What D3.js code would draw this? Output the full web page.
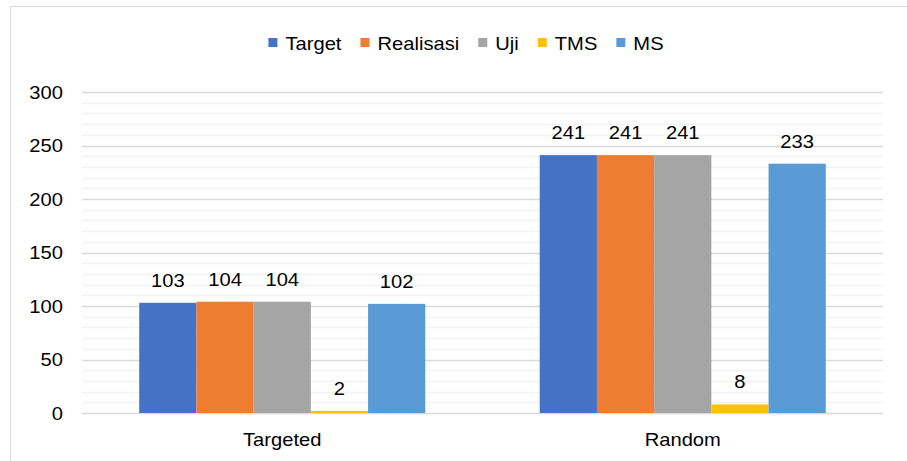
<!DOCTYPE html>
<html>
<head>
<meta charset="utf-8">
<script src="https://cdn.jsdelivr.net/npm/d3@7"></script>
<style>
html,body{margin:0;padding:0;background:#fff;}
svg{display:block;}
text{font-family:"Liberation Sans", Arial, sans-serif;fill:#000;}
</style>
</head>
<body>
<svg id="chart" width="907" height="461"></svg>
<script>
const categories = ["Targeted", "Random"];
const seriesNames = ["Target", "Realisasi", "Uji", "TMS", "MS"];
const seriesColors = ["#4472C4", "#ED7D31", "#A5A5A5", "#FFC000", "#5B9BD5"];
const targetValues = [103, 241];
const realisasiValues = [104, 241];
const ujiValues = [104, 241];
const tmsValues = [2, 8];
const msValues = [102, 233];
const yTicks = [0, 50, 100, 150, 200, 250, 300];

const seriesValues = [targetValues, realisasiValues, ujiValues, tmsValues, msValues];

const W = 907, H = 461;
const svg = d3.select("#chart");
const FS = 18, SX = 1.12;

// chart border
svg.append("rect").attr("x", 10.5).attr("y", 6.5).attr("width", 912).attr("height", 470)
  .attr("fill", "#fff").attr("stroke", "#d9d9d9").attr("stroke-width", 1);

const plot = {left: 82, right: 883, top: 92, bottom: 413};

const x0 = d3.scaleBand().domain(categories).range([plot.left, plot.right]).paddingInner(0).paddingOuter(0);
const y = d3.scaleLinear().domain([0, 300]).range([plot.bottom, plot.top]);

function txt(g, s, x, yy, anchor) {
  return g.append("text")
    .attr("transform", `translate(${x},${yy}) scale(${SX},1)`)
    .attr("text-anchor", anchor || "middle")
    .attr("font-size", FS)
    .text(s);
}

// minor gridlines
const minor = d3.range(10, 300, 10).filter(v => v % 50 !== 0);
svg.append("g").selectAll("line").data(minor).join("line")
  .attr("x1", plot.left).attr("x2", plot.right)
  .attr("y1", d => Math.round(y(d)) + 0.5).attr("y2", d => Math.round(y(d)) + 0.5)
  .attr("stroke", "#f2f2f2").attr("stroke-width", 1.5);

// major gridlines
svg.append("g").selectAll("line").data(yTicks).join("line")
  .attr("x1", plot.left).attr("x2", plot.right)
  .attr("y1", d => Math.round(y(d)) + 0.5).attr("y2", d => Math.round(y(d)) + 0.5)
  .attr("stroke", "#d9d9d9").attr("stroke-width", 1.5);

// y tick labels
const yl = svg.append("g");
yTicks.forEach(t => txt(yl, t, 63, y(t) + 6.5, "end"));

// bars
const groupW = x0.bandwidth() * 5 / 7;
const x1 = d3.scaleBand().domain(seriesNames).range([0, groupW]).padding(0);
const bars = svg.append("g");
const labels = svg.append("g");
categories.forEach((c, ci) => {
  const gx = x0(c) + (x0.bandwidth() - groupW) / 2;
  seriesNames.forEach((s, si) => {
    const v = seriesValues[si][ci];
    bars.append("rect")
      .attr("x", gx + x1(s)).attr("width", x1.bandwidth())
      .attr("y", y(v)).attr("height", y(0) - y(v))
      .attr("fill", seriesColors[si]);
    txt(labels, v, gx + x1(s) + x1.bandwidth() / 2, y(v) - 16, "middle");
  });
  txt(svg, c, x0(c) + x0.bandwidth() / 2, 446, "middle");
});

// legend
const leg = svg.append("g");
const items = [];
let cursor = 0;
seriesNames.forEach((s, i) => {
  const g = leg.append("g");
  g.append("rect").attr("x", 0).attr("y", -5).attr("width", 9).attr("height", 9).attr("fill", seriesColors[i]);
  const t = txt(g, s, 17, 6.5, "start");
  const w = t.node().getComputedTextLength() * SX;
  items.push({g, x: cursor});
  cursor += 17 + w + 19;
});
const total = cursor - 19;
const startX = 466 - total / 2;
items.forEach(it => it.g.attr("transform", `translate(${startX + it.x},43)`));
</script>
</body>
</html>
